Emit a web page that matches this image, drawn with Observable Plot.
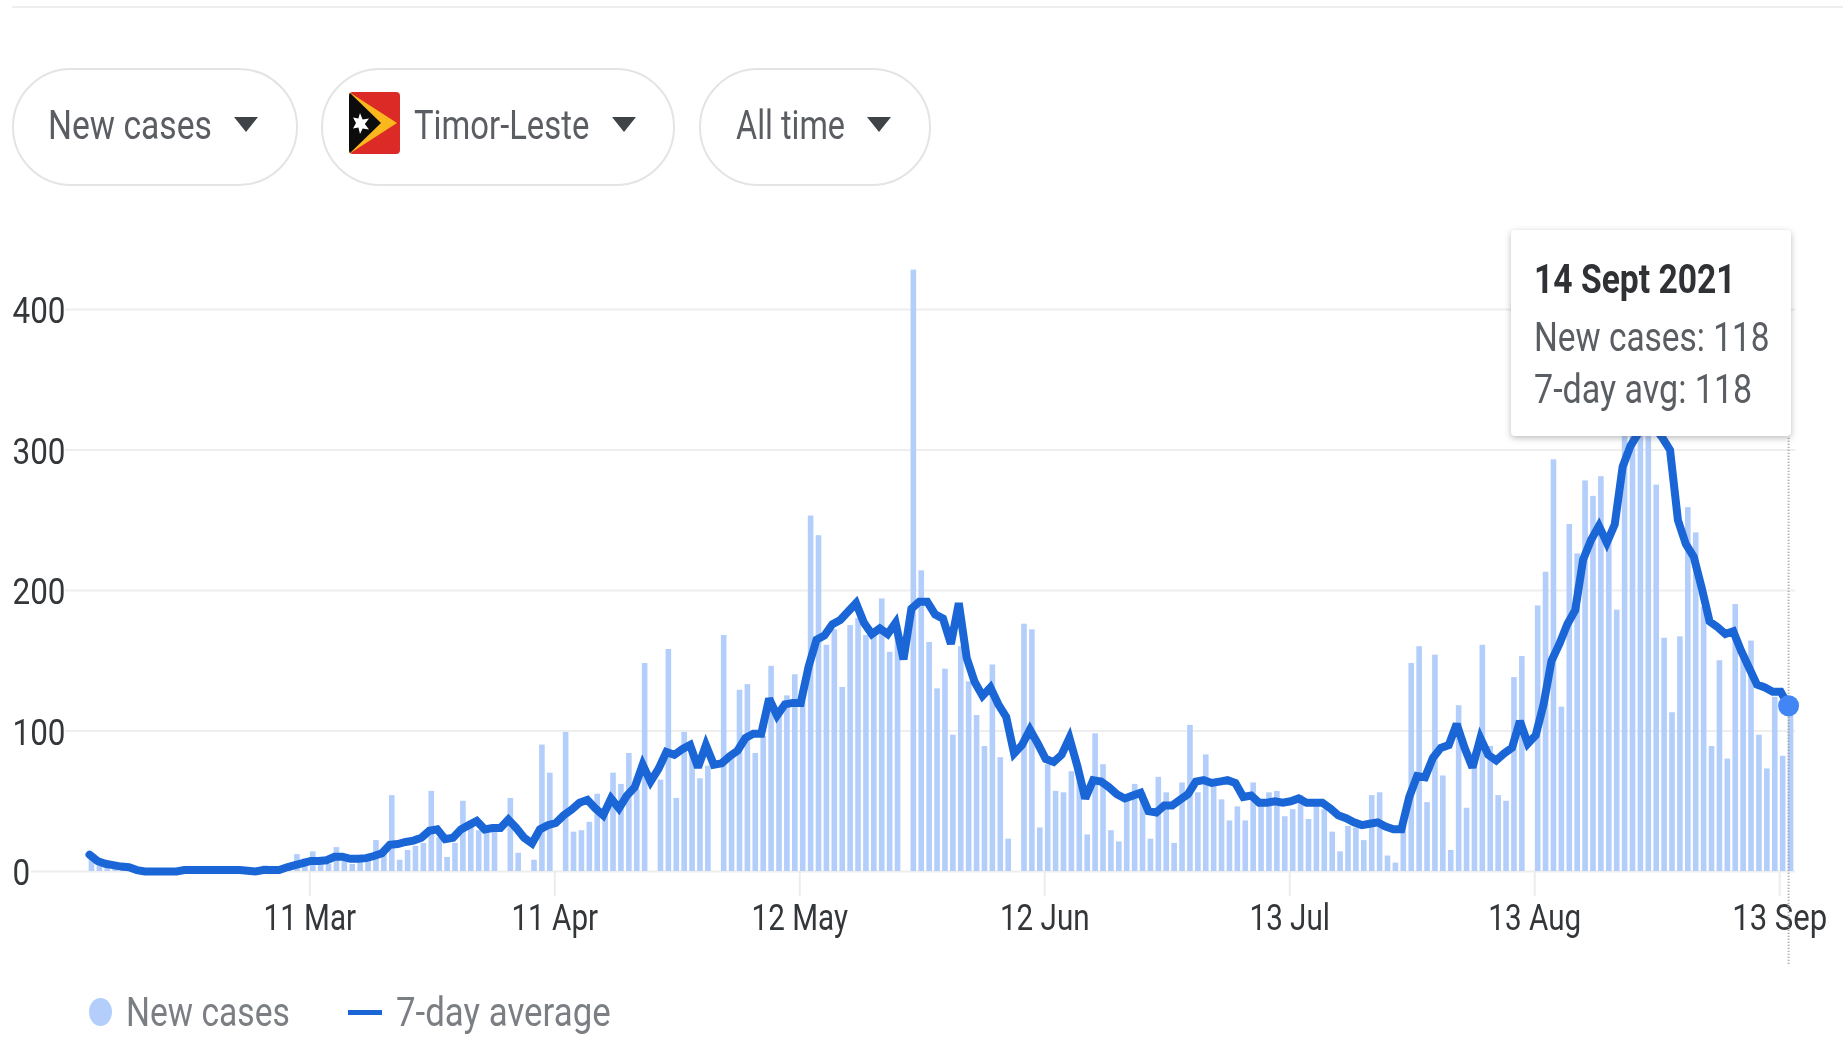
<!DOCTYPE html>
<html>
<head>
<meta charset="utf-8">
<script src="https://cdn.jsdelivr.net/npm/d3@7"></script>
<script src="https://cdn.jsdelivr.net/npm/@observablehq/plot@0.6"></script>
<style>
html,body{margin:0;padding:0;background:#fff;overflow:hidden;width:1843px;height:1038px}
body{position:relative;font-family:Roboto,sans-serif;filter:blur(0.5px)}
.abs{position:absolute}
.rule{left:12px;right:0;top:6px;height:2px;background:#eeeeee}
.pill{box-sizing:border-box;top:68px;height:118px;border:2px solid #e3e4e6;border-radius:59px;background:#fff}
.t{position:absolute;white-space:nowrap;line-height:1;transform-origin:left center;transform:translateY(-50%) scaleX(var(--sx))}
.pt{top:125px;font-size:41px;color:#5a5e62}
.arrow{top:117px;width:0;height:0;border-left:12px solid transparent;border-right:12px solid transparent;border-top:15px solid #3f4347}
#chart{left:0;top:230px}
#chart svg{display:block;overflow:visible}
.tip{left:1511px;top:230px;width:280px;height:206px;background:#fff;border-radius:4px;box-shadow:0 2px 6px rgba(60,64,67,.35)}
.tt{left:1534px;font-size:41px;color:#5a5e62}
.lg{top:1012px;font-size:41px;color:#7b7f84}
</style>
</head>
<body>
<div class="abs rule"></div>
<div class="abs pill" style="left:12px;width:286px"></div>
<div class="t pt" style="left:48px;--sx:.82">New cases</div>
<div class="abs arrow" style="left:234px"></div>
<div class="abs pill" style="left:321px;width:354px"></div>
<svg class="abs" style="left:349px;top:92px" width="51" height="62" viewBox="0 0 51 62">
  <clipPath id="r"><rect width="51" height="62" rx="4"/></clipPath>
  <g clip-path="url(#r)">
    <rect width="51" height="62" fill="#dc2a26"/>
    <path d="M0 0L48 31L0 62Z" fill="#fbb81c"/>
    <path d="M0 0L32 31L0 62Z" fill="#0c0c0c"/>
    <path d="M11 21l2.600 6.600 6.400-1-4.200 5.400 4.200 5.400-6.400-1L11 42l-1.600-6.600-5.400 1L7 31 4 25.600l5.400 1z" fill="#fff"/>
  </g>
</svg>
<div class="t pt" style="left:414px;--sx:.8">Timor-Leste</div>
<div class="abs arrow" style="left:612px"></div>
<div class="abs pill" style="left:699px;width:232px"></div>
<div class="t pt" style="left:736px;--sx:.79">All time</div>
<div class="abs arrow" style="left:867px"></div>

<div class="abs" id="chart"></div>

<div class="abs tip"></div>
<div class="t tt" style="top:279px;font-weight:bold;color:#2f3134;--sx:.82">14 Sept 2021</div>
<div class="t tt" style="top:337px;--sx:.815">New cases: 118</div>
<div class="t tt" style="top:389px;--sx:.83">7-day avg: 118</div>

<div class="abs" style="left:89px;top:998px;width:23px;height:28px;border-radius:50%;background:#b3cefb"></div>
<div class="t lg" style="left:126px;--sx:.82">New cases</div>
<div class="abs" style="left:348px;top:1010px;width:34px;height:5px;background:#1a66d6"></div>
<div class="t lg" style="left:396px;--sx:.85">7-day average</div>

<script>
const startDate = "2021-02-11";
const newCases = [
  12,6,3,2,3,1,1,0,0,0,
  0,0,1,1,1,1,1,1,1,1,
  0,0,4,2,1,3,12,9,14,10,
  5,17,12,5,10,11,22,12,54,8,
  15,18,20,57,24,10,20,50,34,29,
  29,28,0,52,13,0,8,90,70,0,
  99,28,29,35,55,42,70,62,84,58,
  148,0,65,158,52,99,85,66,75,0,
  168,82,129,133,84,96,146,115,125,140,
  121,253,239,161,172,131,175,180,168,170,
  194,156,175,0,428,214,163,130,144,97,
  160,135,111,89,147,81,23,0,176,172,
  31,76,57,56,71,72,26,98,76,29,
  21,54,62,56,23,67,56,20,63,104,
  56,83,62,51,36,46,36,63,49,56,
  57,39,44,54,37,46,44,28,14,32,
  31,22,54,56,11,6,35,148,160,49,
  154,68,15,118,45,85,161,89,54,50,
  138,153,0,189,213,293,117,247,226,278,
  267,281,236,186,320,335,340,345,275,166,
  113,167,259,241,188,89,150,80,190,157,
  164,97,73,124,82,118
];
const sevenDayAvg = [
  12,7.5,5.5,4.5,3.5,3,1,0,0,0,
  0,0,1,1,1,1,1,1,1,1,
  0.5,0,1,1,1,3,4.5,6,7.5,7.5,
  8,10.5,10.5,9,9,9.5,11,13,19,19.5,
  21,22,24,29,30,23,24,30,33,36,
  30,31,31,37,31,24,20,30,33,34.5,
  40,44,49,51,45,40,52,45,54,60,
  76,64,73,85,83,87,90,74,90,76,
  77,82,86,95,98,98,123,111,119,120,
  120,146,165,168,176,179,185,191,177,169,
  173,169,177,151,187,192,192,183,180,162,
  191,152,135,125,131,119,110,84,90,101,
  91,80,78,83,95,75,52,65,64,60,
  55,52,54,56,43,42,47,47,51,55,
  64,65,63,64,65,63,53,54,49,49,
  50,49,50,52,49,49,49,45,40,38,
  35,33,34,35,32,30,30,53,68,67,
  81,88,90,105,88,74,95,83,79,84,
  88,107,91,97,119,150,162,176,186,222,
  236,246,234,247,288,303,312,316,316,309,
  300,250,233,224,202,178,174,169,171,157,
  145,133,131,128,128,118
];
const tickDates = ["2021-03-11","2021-04-11","2021-05-12","2021-06-12","2021-07-13","2021-08-13","2021-09-13"];
const tickLabels = ["11 Mar","11 Apr","12 May","12 Jun","13 Jul","13 Aug","13 Sep"];
const yTicks = [0,100,200,300,400];

const d0 = new Date(startDate + "T00:00:00Z");
const rows = newCases.map((v,i)=>{
  const day = d3.utcDay.offset(d0,i);
  return {
    x1: d3.utcHour.offset(day,2),
    x2: d3.utcHour.offset(day,19),
    xl: d3.utcHour.offset(day,3),
    cases: v,
    avg: sevenDayAvg[i]
  };
});
const last = rows[rows.length-1];
const ticks = tickDates.map(s=>new Date(s+"T00:00:00Z"));
const fmt = new Map(ticks.map((t,i)=>[+t,tickLabels[i]]));

const plot = Plot.plot({
  width:1843,
  height:740,
  marginLeft:88,
  marginRight:48,
  marginTop:79,
  marginBottom:99,
  style:{background:"transparent",fontFamily:"Roboto,sans-serif",overflow:"visible"},
  x:{type:"utc",domain:[d0,new Date("2021-09-15T00:00:00Z")],axis:null},
  y:{domain:[0,400],axis:null},
  marks:[
    Plot.ruleY(yTicks.filter(d=>d>0),{stroke:"#eeeeee",strokeWidth:2,insetLeft:-23}),
    Plot.ruleY([0],{stroke:"#eeeeee",strokeWidth:2,insetLeft:-57}),
    Plot.axisX({ticks,tickFormat:d=>fmt.get(+d),tickSize:25,tickPadding:7,stroke:"#ececec",strokeWidth:2,fill:"#34373a",fontSize:37,label:null,anchor:"bottom"}),
    Plot.text(yTicks,{x:()=>d0,y:d=>d,text:d=>String(d),textAnchor:"start",dx:-76,dy:2,fontSize:37,fill:"#34373a"}),
    Plot.rectY(rows,{x1:"x1",x2:"x2",y:"cases",fill:"#b3cefb"}),
    Plot.ruleX([last],{x:"xl",y1:-66,y2:310,stroke:"#9a9a9a",strokeWidth:2,strokeDasharray:"1,2"}),
    Plot.line(rows,{x:"xl",y:"avg",stroke:"#1a66d6",strokeWidth:8,strokeLinejoin:"miter",strokeMiterlimit:3,curve:"linear"}),
    Plot.dot([last],{x:"xl",y:"avg",r:10.5,fill:"#4285f4"})
  ]
});
document.getElementById("chart").appendChild(plot);
// The reference's text is horizontally condensed: compress the rendered labels.
plot.querySelectorAll("text").forEach(t=>{
  const s = t.textContent;
  const ratio = yTicks.map(String).includes(s) ? 0.85 : s === "13 Sep" ? 0.84 : 0.8;
  t.setAttribute("textLength", t.getComputedTextLength()*ratio);
  t.setAttribute("lengthAdjust","spacingAndGlyphs");
});
</script>
</body>
</html>
